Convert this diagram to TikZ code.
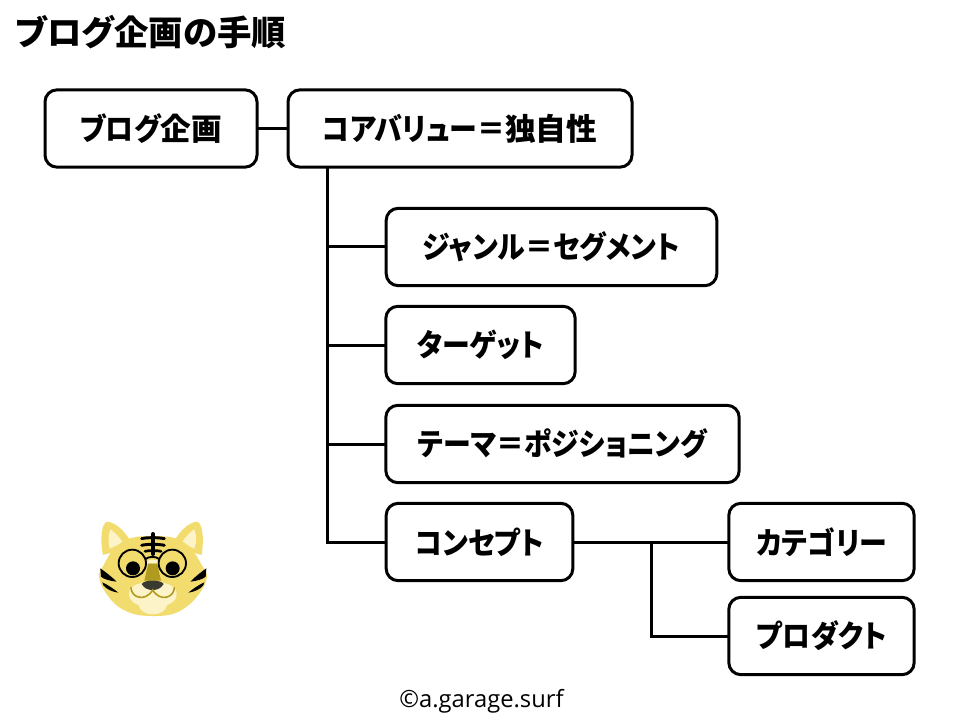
\documentclass[tikz,border=0pt]{standalone}
\usepackage{fontspec}
\newfontfamily\jp{Noto Sans CJK JP}[RawFeature=+palt]
\newfontfamily\jk{Noto Sans CJK JP}[RawFeature=+palt,FakeStretch=0.91]
\newfontfamily\lat{Open Sans}
\definecolor{tigery}{HTML}{F2DC6E}
\definecolor{tigerc}{HTML}{FDF3C8}
\definecolor{tigerd}{HTML}{B09A20}
\definecolor{tigern}{HTML}{3A3A30}
\tikzset{
  box/.style={draw=black,line width=2.25pt,rounded corners=9pt,fill=white,inner sep=0pt,outer sep=0pt,
    font=\jk\bfseries\fontsize{23pt}{26pt}\selectfont,text=black},
  link/.style={draw=black,line width=2.25pt,line join=miter},
}
\begin{document}
\begin{tikzpicture}[x=0.75pt,y=-0.75pt]
\useasboundingbox (0,0) rectangle (960,720);
\fill[white] (0,0) rectangle (960,720);
\node[anchor=west,inner sep=0pt,font=\jp\bfseries\fontsize{25.8pt}{28pt}\selectfont] (title) at (15,32) {ブログ企画の手順};
\node[box,minimum width=159pt,minimum height=58pt] (blog) at (151,128.5) {ブログ{\jp\bfseries 企画}};
\node[box,minimum width=258pt,minimum height=58pt] (core) at (460,128.5) {コアバリュー＝{\jp\bfseries 独自性}};
\node[box,minimum width=248pt,minimum height=58pt] (genre) at (551.5,247) {ジャンル＝セグメント};
\node[box,minimum width=142pt,minimum height=58pt] (target) at (480.5,345) {ターゲット};
\node[box,minimum width=265pt,minimum height=58pt] (theme) at (562.5,444) {テーマ＝ポジショニング};
\node[box,minimum width=140pt,minimum height=58pt] (concept) at (479.5,542) {コンセプト};
\node[box,minimum width=139pt,minimum height=58pt] (cat) at (821.5,542) {カテゴリー};
\node[box,minimum width=139pt,minimum height=58pt] (prod) at (821.5,636) {プロダクト};
\coordinate (t) at (327,167);
\coordinate (u) at (651,542);
\draw[link] (blog.east) -- (core.west);
\draw[link] (t) |- (concept.west);
\draw[link] (t |- genre.west) -- (genre.west);
\draw[link] (t |- target.west) -- (target.west);
\draw[link] (t |- theme.west) -- (theme.west);
\draw[link] (concept.east) -- (cat.west);
\draw[link] (u) |- (prod.west);
\node[inner sep=0pt,font=\lat\fontsize{17.8pt}{20pt}\selectfont] (credit) at (481.5,701) {©a.garage.surf};
% tiger
\begin{scope}[shift={(85,510)},x=0.25pt,y=-0.25pt]
  % ears
  \fill[tigery] (54,135) .. controls (44,85) and (50,36) .. (68,35) .. controls (94,38) and (128,70) .. (145,110) -- cycle;
  \fill[tigery] (350,135) .. controls (358,85) and (352,36) .. (335,35) .. controls (308,38) and (276,70) .. (260,110) -- cycle;
  \fill[tigerc] (74,116) .. controls (68,95) and (70,72) .. (76,58) .. controls (90,67) and (106,85) .. (114,98) -- cycle;
  \fill[tigerc] (328,116) .. controls (336,95) and (334,72) .. (328,58) .. controls (314,67) and (298,85) .. (290,98) -- cycle;
  % face
  \fill[tigery] plot[smooth cycle,tension=0.6] coordinates {(203,78) (272,85) (318,115) (350,165) (366,200) (347,245) (305,290) (250,315) (160,315) (100,290) (60,245) (42,200) (56,165) (88,115) (136,85)};
  % muzzle
  \fill[tigerc] (203,215) .. controls (170,215) and (132,225) .. (132,250) .. controls (132,275) and (150,280) .. (160,285)
     .. controls (165,305) and (185,313) .. (203,313) .. controls (222,313) and (242,305) .. (247,285)
     .. controls (258,280) and (275,275) .. (275,250) .. controls (275,225) and (235,215) .. (203,215) -- cycle;
  % nose bridge
  \fill[tigerd] (190,160) -- (216,160) -- (228,212) -- (178,212) -- cycle;
  \fill[tigerc] (192,150) -- (214,150) -- (222,160) -- (184,160) -- cycle;
  % nose
  \fill[tigern] (170,222) .. controls (180,208) and (225,208) .. (236,222) .. controls (228,236) and (215,240) .. (203,240) .. controls (190,240) and (178,236) .. (170,222) -- cycle;
  % mouth
  \draw[tigerd,line width=1.2pt,line cap=round] (138,233) .. controls (138,262) and (180,278) .. (203,240) .. controls (226,278) and (268,262) .. (268,233);
  % forehead stripes
  \draw[black,line width=3pt,line cap=round] (204,72) -- (204,132);
  \draw[black,line width=2.2pt,line cap=round] (170,86) .. controls (185,82) and (222,82) .. (238,86);
  \draw[black,line width=2.2pt,line cap=round] (170,106) .. controls (185,102) and (222,102) .. (238,106);
  \draw[black,line width=2pt,line cap=round] (180,124) .. controls (190,121) and (218,121) .. (228,124);
  % cheek stripes
  \fill[black] (46,175) .. controls (60,185) and (80,200) .. (95,215) .. controls (75,213) and (55,207) .. (48,200) -- cycle;
  \fill[black] (52,217) .. controls (70,225) and (88,238) .. (100,248) .. controls (82,246) and (62,236) .. (55,226) -- cycle;
  \fill[black] (364,175) .. controls (350,185) and (330,200) .. (316,215) .. controls (335,213) and (355,207) .. (362,200) -- cycle;
  \fill[black] (358,217) .. controls (340,225) and (322,238) .. (310,248) .. controls (328,246) and (348,236) .. (355,226) -- cycle;
  % eyes
  \fill[black] (144,175) circle [radius=21];
  \fill[black] (263,175) circle [radius=21];
  % glasses
  \draw[black,line width=1.4pt] (142,160) circle [radius=41];
  \draw[black,line width=1.4pt] (262,160) circle [radius=41];
  \draw[black,line width=1.4pt] (180,148) .. controls (192,138) and (212,138) .. (224,148);
\end{scope}
\end{tikzpicture}
\end{document}
